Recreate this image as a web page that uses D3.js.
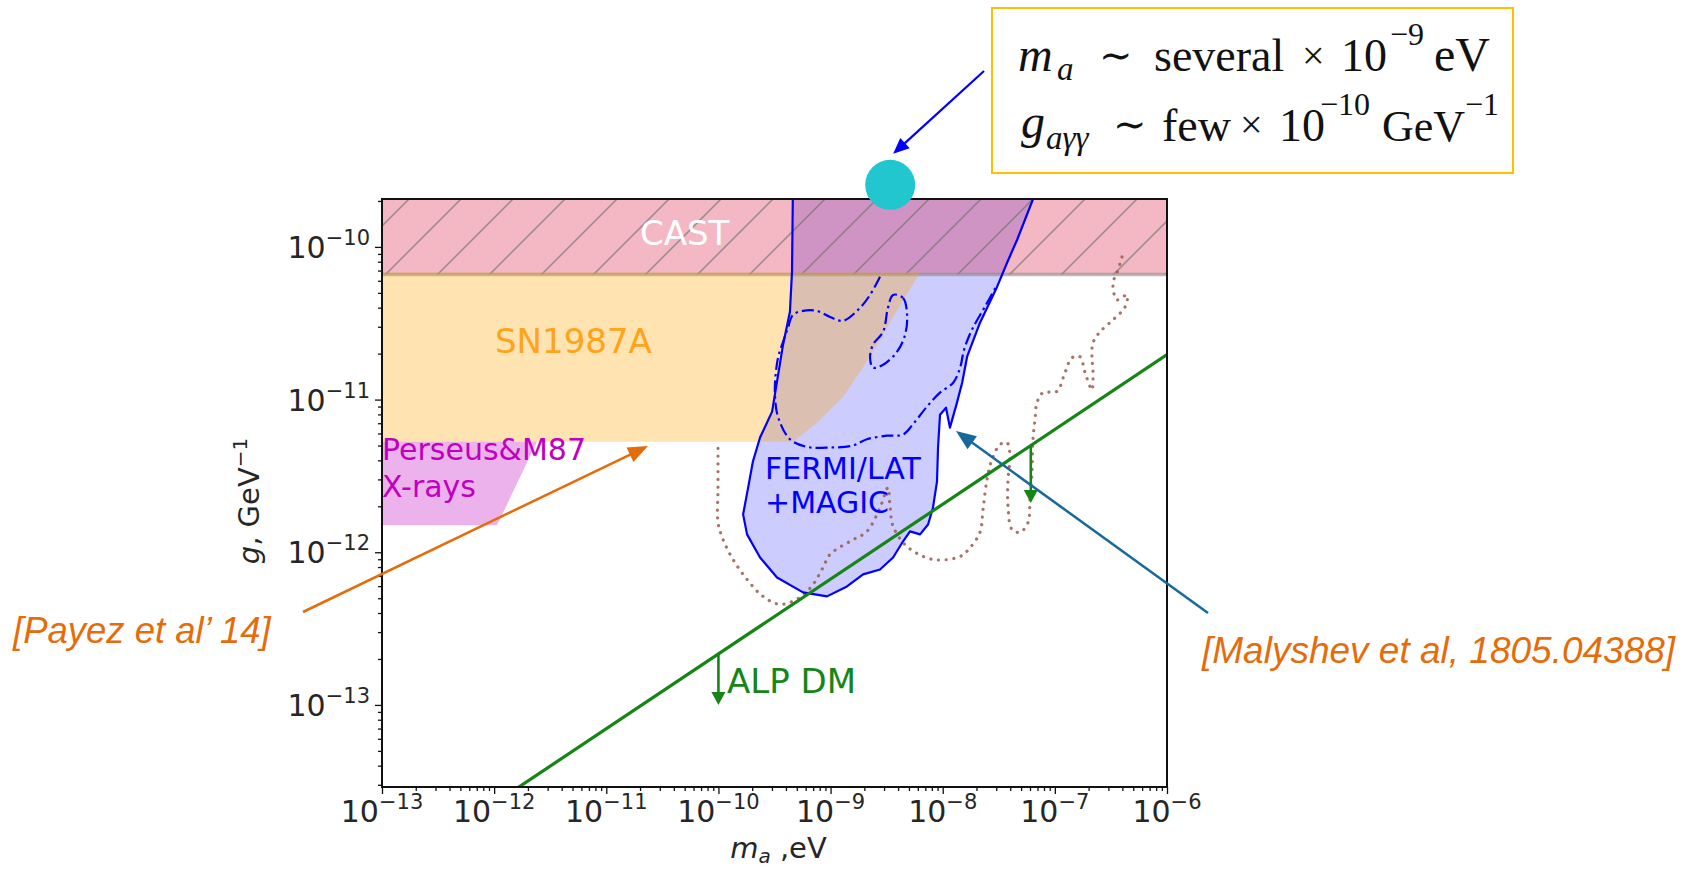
<!DOCTYPE html>
<html>
<head>
<meta charset="utf-8">
<script src="https://cdn.jsdelivr.net/npm/d3@7"></script>
<style>
  html, body { margin: 0; padding: 0; background: #fff; }
  svg { display: block; }
</style>
</head>
<body>
<svg id="chart" width="1698" height="870"></svg>
<script>
// ---------------- data (mass m_a in eV, coupling g in GeV^-1) ----------------
const massRange = [1e-13, 1e-6];
const couplingRange = [2.9e-14, 2.06e-10];

const xTickExponents = [-13, -12, -11, -10, -9, -8, -7, -6];
const yTickExponents = [-13, -12, -11, -10];

// CAST helioscope bound
const castLimit = 6.6e-11;

// SN1987A bound: flat part, then the rising edge at higher mass
const sn1987aLimit = 5.3e-12;
const sn1987aEdge = [
  [4.62e-10, 5.3e-12], [7.57e-10, 7.06e-12], [1.29e-9, 1.04e-11],
  [2.25e-9, 1.91e-11], [3.61e-9, 3.48e-11], [6.28e-9, 6.6e-11]
];

// Perseus & M87 X-ray bound
const perseusRegion = [
  [1e-14, 1.5e-12], [1.06e-12, 1.5e-12], [2.41e-12, 5.3e-12], [1e-14, 5.3e-12]
];

// FERMI/LAT + MAGIC preferred region (outer contour)
const fermiOuter = [
  [4.62e-10, 2.5e-10], [4.53e-10, 6.86e-11], [4.34e-10, 3.76e-11], [3.77e-10, 2.29e-11],
  [3.33e-10, 1.31e-11], [3.01e-10, 8.34e-12], [2.35e-10, 5.64e-12], [2.03e-10, 3.93e-12],
  [1.84e-10, 2.65e-12], [1.66e-10, 1.77e-12], [1.80e-10, 1.31e-12], [2.35e-10, 9.24e-13],
  [3.33e-10, 6.84e-13], [5.68e-10, 5.46e-13], [9.29e-10, 5.14e-13], [1.40e-9, 5.97e-13],
  [1.95e-9, 7.16e-13], [2.76e-9, 7.71e-13], [3.61e-9, 9.24e-13], [4.43e-9, 1.18e-12],
  [5.11e-9, 1.37e-12], [6.28e-9, 1.31e-12], [7.40e-9, 1.52e-12], [8.19e-9, 1.96e-12],
  [8.89e-9, 2.90e-12], [9.08e-9, 4.84e-12], [9.46e-9, 7.96e-12], [1.07e-8, 8.85e-12],
  [1.16e-8, 6.55e-12], [1.34e-8, 9.55e-12], [1.49e-8, 1.29e-11], [1.65e-8, 1.91e-11],
  [2.15e-8, 3.19e-11], [3.05e-8, 5.47e-11], [3.74e-8, 7.85e-11], [4.60e-8, 1.11e-10],
  [6.39e-8, 2.06e-10], [7.0e-8, 2.5e-10]
];

// FERMI/LAT + MAGIC inner contour (dash-dot)
const fermiInner = [
  [2.76e-9, 6.37e-11], [2.25e-9, 4.85e-11], [1.83e-9, 3.99e-11], [1.29e-9, 3.28e-11],
  [9.89e-10, 3.48e-11], [7.57e-10, 3.81e-11], [5.68e-10, 3.81e-11], [4.62e-10, 3.59e-11],
  [4.17e-10, 2.95e-11], [3.77e-10, 2.39e-11], [3.40e-10, 1.88e-11], [3.20e-10, 1.31e-11],
  [3.20e-10, 1.03e-11], [3.40e-10, 7.7e-12], [4.34e-10, 5.5e-12], [6.17e-10, 4.9e-12],
  [9.89e-10, 4.85e-12], [1.58e-9, 5.0e-12], [2.11e-9, 5.5e-12], [3.19e-9, 5.8e-12],
  [4.43e-9, 5.9e-12], [5.43e-9, 6.9e-12], [7.24e-9, 9.0e-12], [9.46e-9, 1.11e-11],
  [1.24e-8, 1.29e-11], [1.43e-8, 1.62e-11], [1.55e-8, 2.12e-11], [1.82e-8, 2.86e-11],
  [2.38e-8, 4.06e-11], [3.05e-8, 5.64e-11]
];

// small closed dash-dot island
const fermiIsland = [
  [3.61e-9, 4.85e-11], [4.43e-9, 4.63e-11], [4.81e-9, 3.59e-11], [4.61e-9, 2.65e-11],
  [3.92e-9, 2.06e-11], [2.94e-9, 1.69e-11], [2.39e-9, 1.62e-11], [2.25e-9, 1.88e-11],
  [2.39e-9, 2.29e-11], [2.94e-9, 2.78e-11], [3.25e-9, 3.99e-11]
];

// dotted contour
const dottedContour = [
  [3.97e-7, 8.6e-11], [3.58e-7, 6.76e-11], [3.30e-7, 5.82e-11], [3.58e-7, 4.50e-11],
  [4.40e-7, 4.85e-11], [4.23e-7, 4.05e-11], [3.30e-7, 3.33e-11], [2.53e-7, 2.78e-11],
  [2.19e-7, 2.36e-11], [2.14e-7, 1.91e-11], [2.19e-7, 1.50e-11], [2.14e-7, 1.16e-11],
  [1.86e-7, 1.50e-11], [1.67e-7, 1.91e-11], [1.42e-7, 1.88e-11], [1.23e-7, 1.50e-11],
  [1.04e-7, 1.13e-11], [7.83e-8, 1.11e-11], [6.93e-8, 9.55e-12], [6.65e-8, 7.39e-12],
  [6.38e-8, 5.47e-12], [6.25e-8, 3.33e-12], [6.00e-8, 2.21e-12], [5.77e-8, 1.57e-12],
  [4.89e-8, 1.35e-12], [4.15e-8, 1.41e-12], [3.82e-8, 2.00e-12], [3.82e-8, 2.99e-12],
  [3.98e-8, 4.24e-12], [3.74e-8, 5.23e-12], [3.24e-8, 5.07e-12], [2.75e-8, 4.05e-12],
  [2.48e-8, 2.99e-12], [2.29e-8, 1.91e-12], [2.15e-8, 1.35e-12], [1.75e-8, 1.07e-12],
  [1.43e-8, 9.39e-13], [8.19e-9, 8.97e-13], [4.81e-9, 1.09e-12], [3.61e-9, 1.48e-12],
  [3.39e-9, 2.00e-12], [3.25e-9, 2.65e-12], [2.76e-9, 1.96e-12], [2.11e-9, 1.37e-12],
  [1.49e-9, 1.18e-12], [9.89e-10, 9.68e-13], [8.57e-10, 7.96e-13], [6.97e-10, 6.15e-13],
  [5.33e-10, 5.06e-13], [3.54e-10, 4.56e-13], [2.50e-10, 5.14e-13], [1.80e-10, 6.64e-13],
  [1.35e-10, 8.97e-13], [1.10e-10, 1.21e-12], [9.91e-11, 1.57e-12], [9.91e-11, 2.58e-12],
  [9.91e-11, 4.24e-12], [9.91e-11, 5.23e-12]
];

// ALP dark matter line and its "excluded below" arrows (mass, arrow tip coupling)
const alpDmLine = [[1e-12, 2.26e-14], [1e-6, 1.97e-11]];
const alpDmArrows = [[1e-10, 1.0e-13], [6.1e-8, 2.1e-12]];

// best-fit point (mass, coupling)
const bestFit = [3.4e-9, 2.55e-10];

// ---------------- layout ----------------
const svg = d3.select("#chart");
const plot = { left: 382, right: 1167, top: 199, bottom: 787 };
const x = d3.scaleLog().domain(massRange).range([plot.left, plot.right]);
const y = d3.scaleLog().domain(couplingRange).range([plot.bottom, plot.top]);
const line = d3.line().x(d => x(d[0])).y(d => y(d[1]));
const smooth = d3.line().x(d => x(d[0])).y(d => y(d[1])).curve(d3.curveCatmullRom.alpha(0.5));
const smoothClosed = d3.line().x(d => x(d[0])).y(d => y(d[1])).curve(d3.curveCatmullRomClosed.alpha(0.5));

const defs = svg.append("defs");
defs.append("clipPath").attr("id", "plotClip")
  .append("rect")
  .attr("x", plot.left).attr("y", plot.top)
  .attr("width", plot.right - plot.left).attr("height", plot.bottom - plot.top);

const hatch = defs.append("pattern")
  .attr("id", "castHatch").attr("patternUnits", "userSpaceOnUse")
  .attr("x", 36).attr("y", 0).attr("width", 52).attr("height", 52);
hatch.append("path")
  .attr("d", "M-4,4 L4,-4 M0,52 L52,0 M48,56 L56,48")
  .attr("stroke", "#707070").attr("stroke-opacity", 0.6).attr("stroke-width", 1.7);

const area = svg.append("g").attr("clip-path", "url(#plotClip)");

// FERMI/LAT + MAGIC filled region
area.append("path")
  .attr("d", line(fermiOuter) + "Z")
  .attr("fill", "#0000ff").attr("fill-opacity", 0.2);

// CAST excluded region
const castTop = y(couplingRange[1]), castBottom = y(castLimit);
area.append("rect")
  .attr("x", x(massRange[0])).attr("width", x(massRange[1]) - x(massRange[0]))
  .attr("y", castTop).attr("height", castBottom - castTop)
  .attr("fill", "#dc143c").attr("fill-opacity", 0.3);
area.append("rect")
  .attr("x", x(massRange[0])).attr("width", x(massRange[1]) - x(massRange[0]))
  .attr("y", castTop).attr("height", castBottom - castTop)
  .attr("fill", "url(#castHatch)");
area.append("line")
  .attr("x1", x(massRange[0])).attr("x2", x(massRange[1]))
  .attr("y1", castBottom).attr("y2", castBottom)
  .attr("stroke", "#8c8c8c").attr("stroke-opacity", 0.6).attr("stroke-width", 3.5);

// SN1987A excluded region (its top edge tucks under the CAST boundary line)
const snPts = [[1e-14, sn1987aLimit], ...sn1987aEdge, [1e-14, castLimit]]
  .map(d => [x(d[0]), y(d[1])]);
snPts[snPts.length - 2][1] -= 2;
snPts[snPts.length - 1][1] -= 2;
area.append("path")
  .attr("d", "M" + snPts.map(p => p.join(",")).join("L") + "Z")
  .attr("fill", "#ffa500").attr("fill-opacity", 0.3);

// Perseus & M87 region
area.append("path")
  .attr("d", line(perseusRegion) + "Z")
  .attr("fill", "#bf00bf").attr("fill-opacity", 0.3);

// dotted contour
area.append("path")
  .attr("d", smooth(dottedContour))
  .attr("fill", "none").attr("stroke", "#9a5a4c").attr("stroke-opacity", 0.85)
  .attr("stroke-width", 3.2).attr("stroke-linecap", "round")
  .attr("stroke-dasharray", "0.1 7.6");

// FERMI contours
area.append("path")
  .attr("d", line(fermiOuter))
  .attr("fill", "none").attr("stroke", "#0000ff").attr("stroke-width", 2.2)
  .attr("stroke-linejoin", "round");
area.append("path")
  .attr("d", smooth(fermiInner))
  .attr("fill", "none").attr("stroke", "#0000ff").attr("stroke-width", 2.2)
  .attr("stroke-dasharray", "12 4 2.5 4");
area.append("path")
  .attr("d", smoothClosed(fermiIsland))
  .attr("fill", "none").attr("stroke", "#0000ff").attr("stroke-width", 2.2)
  .attr("stroke-dasharray", "12 4 2.5 4");

// ALP DM line
area.append("path")
  .attr("d", line(alpDmLine))
  .attr("fill", "none").attr("stroke", "#158515").attr("stroke-width", 3.2);

// coupling on the ALP DM line at a given mass (log-linear between its end points)
function alpDmAt(m) {
  const [p0, p1] = alpDmLine;
  const t = (Math.log10(m) - Math.log10(p0[0])) / (Math.log10(p1[0]) - Math.log10(p0[0]));
  return Math.pow(10, Math.log10(p0[1]) + t * (Math.log10(p1[1]) - Math.log10(p0[1])));
}

function arrow(g, x1, y1, x2, y2, color, width, headLen, headHalf) {
  const ang = Math.atan2(y2 - y1, x2 - x1);
  const bx = x2 - headLen * Math.cos(ang), by = y2 - headLen * Math.sin(ang);
  g.append("line")
    .attr("x1", x1).attr("y1", y1).attr("x2", bx + 2 * Math.cos(ang)).attr("y2", by + 2 * Math.sin(ang))
    .attr("stroke", color).attr("stroke-width", width);
  const nx = -Math.sin(ang), ny = Math.cos(ang);
  g.append("path")
    .attr("d", `M${x2},${y2} L${bx + nx * headHalf},${by + ny * headHalf} L${bx - nx * headHalf},${by - ny * headHalf} Z`)
    .attr("fill", color);
}

alpDmArrows.forEach(([m, gTip]) => {
  arrow(area, x(m), y(alpDmAt(m)), x(m), y(gTip), "#158515", 2.6, 13, 7);
});

// region labels
const labelFont = "'DejaVu Sans', sans-serif";
svg.append("text").attr("x", 640).attr("y", 245)
  .attr("font-family", labelFont).attr("font-size", 34).attr("fill", "#ffffff").text("CAST");
svg.append("text").attr("x", 495).attr("y", 353)
  .attr("font-family", labelFont).attr("font-size", 34).attr("fill", "#ffa31a").text("SN1987A");
svg.append("text").attr("x", 382).attr("y", 460)
  .attr("font-family", labelFont).attr("font-size", 30).attr("fill", "#bf00bf").text("Perseus&M87");
svg.append("text").attr("x", 382).attr("y", 497)
  .attr("font-family", labelFont).attr("font-size", 30).attr("fill", "#bf00bf").text("X-rays");
svg.append("text").attr("x", 765).attr("y", 479)
  .attr("font-family", labelFont).attr("font-size", 30).attr("fill", "#0000ff").text("FERMI/LAT");
svg.append("text").attr("x", 765).attr("y", 513)
  .attr("font-family", labelFont).attr("font-size", 30).attr("fill", "#0000ff").text("+MAGIC");
svg.append("text").attr("x", 727).attr("y", 693)
  .attr("font-family", labelFont).attr("font-size", 34).attr("fill", "#158515").text("ALP DM");

// ---------------- axes ----------------
const xMajor = xTickExponents.map(e => Math.pow(10, e));
const yMajor = yTickExponents.map(e => Math.pow(10, e));
const minorIn = (lo, hi, dom) => {
  const out = [];
  for (let e = lo; e <= hi; e++) for (let k = 2; k <= 9; k++) {
    const v = k * Math.pow(10, e);
    if (v >= dom[0] && v <= dom[1]) out.push(v);
  }
  return out;
};
const xMinor = minorIn(-14, -6, massRange);
const yMinor = minorIn(-15, -10, couplingRange);

const axisStyle = g => {
  g.select(".domain").remove();
  g.selectAll(".tick line").attr("stroke", "#111").attr("stroke-width", 1.3);
  g.selectAll(".tick text").remove();
};
svg.append("g").attr("transform", `translate(0,${plot.bottom})`)
  .call(d3.axisBottom(x).tickValues(xMajor).tickSize(7)).call(axisStyle);
svg.append("g").attr("transform", `translate(0,${plot.bottom})`)
  .call(d3.axisBottom(x).tickValues(xMinor).tickSize(4)).call(axisStyle);
svg.append("g").attr("transform", `translate(${plot.left},0)`)
  .call(d3.axisLeft(y).tickValues(yMajor).tickSize(7)).call(axisStyle);
svg.append("g").attr("transform", `translate(${plot.left},0)`)
  .call(d3.axisLeft(y).tickValues(yMinor).tickSize(4)).call(axisStyle);

// plot frame
svg.append("rect")
  .attr("x", plot.left).attr("y", plot.top)
  .attr("width", plot.right - plot.left).attr("height", plot.bottom - plot.top)
  .attr("fill", "none").attr("stroke", "#111").attr("stroke-width", 2);

const tickFont = 30, supFont = 21;
function powerLabel(sel, e) {
  sel.append("tspan").text("10");
  sel.append("tspan").attr("dy", -13).attr("font-size", supFont).text("\u2212" + Math.abs(e));
}
xTickExponents.forEach(e => {
  const t = svg.append("text")
    .attr("x", x(Math.pow(10, e))).attr("y", 822)
    .attr("text-anchor", "middle")
    .attr("font-family", labelFont).attr("font-size", tickFont).attr("fill", "#262626");
  powerLabel(t, e);
});
yTickExponents.forEach(e => {
  const t = svg.append("text")
    .attr("x", 370).attr("y", y(Math.pow(10, e)) + 11)
    .attr("text-anchor", "end")
    .attr("font-family", labelFont).attr("font-size", tickFont).attr("fill", "#262626");
  powerLabel(t, e);
});

// axis titles
const xTitle = svg.append("text")
  .attr("x", (plot.left + plot.right) / 2 + 4).attr("y", 858)
  .attr("text-anchor", "middle")
  .attr("font-family", labelFont).attr("font-size", 29).attr("fill", "#262626");
xTitle.append("tspan").attr("font-style", "italic").text("m");
xTitle.append("tspan").attr("font-size", 20).attr("dy", 5).attr("font-style", "italic").text("a");
xTitle.append("tspan").attr("dy", -5).text(" ,eV");

const yTitle = svg.append("text")
  .attr("transform", `translate(259,${(plot.top + plot.bottom) / 2 + 8}) rotate(-90)`)
  .attr("text-anchor", "middle")
  .attr("font-family", labelFont).attr("font-size", 29).attr("fill", "#262626");
yTitle.append("tspan").attr("font-style", "italic").text("g");
yTitle.append("tspan").text(", GeV");
yTitle.append("tspan").attr("dy", -12).attr("font-size", 20).text("\u22121");

// ---------------- annotations ----------------
// best-fit marker
svg.append("circle")
  .attr("cx", x(bestFit[0])).attr("cy", y(bestFit[1])).attr("r", 25)
  .attr("fill", "#21c6cf");
arrow(svg, 984, 71, x(bestFit[0]) + 3, y(bestFit[1]) - 31, "#0000ff", 2.2, 16, 7);

// literature pointers
arrow(svg, 303, 612, 648, 446, "#e46c0a", 2.5, 20, 8);
arrow(svg, 1208, 613, 956, 431, "#17699a", 2.5, 20, 8);

const citeFont = "'Liberation Sans', Arial, sans-serif";
svg.append("text").attr("x", 13).attr("y", 643)
  .attr("font-family", citeFont).attr("font-style", "italic").attr("font-size", 36.5)
  .attr("fill", "#e46c0a").text("[Payez et al\u2019 14]");
svg.append("text").attr("x", 1202).attr("y", 663)
  .attr("font-family", citeFont).attr("font-style", "italic").attr("font-size", 37)
  .attr("fill", "#e46c0a").text("[Malyshev et al,  1805.04388]");

// parameter box
svg.append("rect")
  .attr("x", 992).attr("y", 8).attr("width", 521).attr("height", 165)
  .attr("fill", "#fff").attr("stroke", "#ffc000").attr("stroke-width", 2);

const serif = "'Liberation Serif', 'DejaVu Serif', serif";
function piece(xp, yp, txt, size, italic) {
  svg.append("text").attr("x", xp).attr("y", yp)
    .attr("font-family", serif).attr("font-size", size)
    .attr("font-style", italic ? "italic" : "normal")
    .attr("fill", "#111").text(txt);
}
// line 1: m_a ~ several x 10^-9 eV
piece(1018, 71, "m", 48, true);
piece(1057, 80, "a", 33, true);
piece(1099, 69, "\u223c", 40, false);
piece(1154, 71, "several", 46, false);
piece(1302, 69, "\u00d7", 40, false);
piece(1341, 71, "10", 46, false);
piece(1390, 45, "\u22129", 32, false);
piece(1434, 71, "eV", 48, false);
// line 2: g_aγγ ~ few x 10^-10 GeV^-1
piece(1021, 138, "g", 48, true);
piece(1046, 149, "a\u03b3\u03b3", 33, true);
piece(1113, 138, "\u223c", 40, false);
piece(1162, 141, "few", 46, false);
piece(1240, 138, "\u00d7", 40, false);
piece(1279, 141, "10", 46, false);
piece(1320, 115, "\u221210", 32, false);
piece(1382, 141, "GeV", 44, false);
piece(1465, 115, "\u22121", 32, false);
</script>
</body>
</html>
